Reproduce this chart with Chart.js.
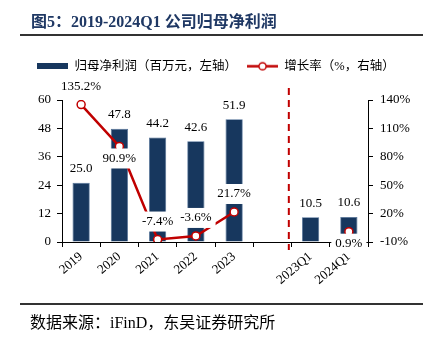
<!DOCTYPE html>
<html>
<head>
<meta charset="utf-8">
<script src="https://cdn.jsdelivr.net/npm/chart.js@4.4.1/dist/chart.umd.min.js"></script>
<style>
body { margin: 0; background: #fff; }
#wrap { position: relative; width: 432px; height: 337px; overflow: hidden; }
#c { position: absolute; left: 0; top: 0; }
.title { position: absolute; left: 31px; top: 8px; font: bold 16px "Liberation Serif", "Noto Sans CJK SC"; color: #1f3864; white-space: nowrap; }
.rule { position: absolute; left: 20px; width: 403px; height: 2px; background: #333; }
.src { position: absolute; left: 30px; top: 309px; font: 16px "Liberation Serif", "Noto Sans CJK SC"; color: #000; white-space: nowrap; }
</style>
</head>
<body>
<div id="wrap">
  <canvas id="c" width="432" height="337"></canvas>
  <div class="title">图5：2019-2024Q1 公司归母净利润</div>
  <div class="rule" style="top:34px"></div>
  <div class="rule" style="top:303px"></div>
  <div class="src">数据来源：iFinD，东吴证券研究所</div>
</div>
<script>
// categories (blank slot separates the yearly and quarterly figures)
var categories = ['2019', '2020', '2021', '2022', '2023', '', '2023Q1', '2024Q1'];
// 归母净利润, 百万元
var profit = [25.0, 47.8, 44.2, 42.6, 51.9, null, 10.5, 10.6];
// 增长率, %
var growth = [135.2, 90.9, -7.4, -3.6, 21.7, null, null, 0.9];

var NAVY = '#17375e';
var RED = '#c00000';
var FONT = '"Liberation Serif", "Noto Sans CJK SC"';

Chart.defaults.font.family = FONT;
Chart.defaults.color = '#000';

// legend swatches
var barSwatch = document.createElement('canvas');
barSwatch.width = 31; barSwatch.height = 6;
(function () {
    var g = barSwatch.getContext('2d');
    g.fillStyle = NAVY;
    g.fillRect(0, 0, 31, 6);
})();
var lineSwatch = document.createElement('canvas');
lineSwatch.width = 31; lineSwatch.height = 11;
(function () {
    var g = lineSwatch.getContext('2d');
    g.strokeStyle = RED; g.lineWidth = 2.5;
    g.beginPath(); g.moveTo(0, 5.5); g.lineTo(31, 5.5); g.stroke();
    g.fillStyle = '#fff'; g.lineWidth = 1.5;
    g.beginPath(); g.arc(15.5, 5.5, 3.6, 0, Math.PI * 2); g.fill(); g.stroke();
})();

// fixed legend height so the plot sits where the reference has it
var legendHeight = {
    id: 'legendHeight',
    beforeInit: function (chart) {
        var fit = chart.legend.fit;
        chart.legend.fit = function () {
            fit.call(this);
            this.height = 50;
        };
    }
};

// red dashed separator between yearly and quarterly data
var divider = {
    id: 'divider',
    afterDatasetsDraw: function (chart) {
        var x = chart.scales.x;
        var px = x.getPixelForValue(5) + 0.43 * (x.getPixelForValue(6) - x.getPixelForValue(5));
        var ctx = chart.ctx;
        ctx.save();
        ctx.strokeStyle = RED;
        ctx.lineWidth = 2;
        ctx.setLineDash([7, 5]);
        ctx.beginPath();
        ctx.moveTo(px, chart.chartArea.top - 12);
        ctx.lineTo(px, chart.chartArea.bottom + 8);
        ctx.stroke();
        ctx.restore();
    }
};

// value labels; growth labels sit on white boxes
var valueLabels = {
    id: 'valueLabels',
    afterDraw: function (chart) {
        var ctx = chart.ctx;
        ctx.save();
        ctx.font = '13px ' + FONT;
        ctx.textAlign = 'center';
        ctx.textBaseline = 'middle';
        chart.getDatasetMeta(0).data.forEach(function (el, i) {
            if (profit[i] == null) return;
            ctx.fillStyle = '#000';
            ctx.fillText(profit[i].toFixed(1), el.x, el.y - 14);
        });
        var below = [false, true, false, false, false, false, false, true];
        chart.getDatasetMeta(1).data.forEach(function (el, i) {
            if (growth[i] == null) return;
            var t = growth[i].toFixed(1) + '%';
            var y = el.y + (below[i] ? 12 : -18);
            var w = ctx.measureText(t).width + 8;
            ctx.fillStyle = '#fff';
            ctx.fillRect(el.x - w / 2, y - 10, w, 20);
            ctx.fillStyle = '#000';
            ctx.fillText(t, el.x, y);
        });
        ctx.restore();
    }
};

new Chart(document.getElementById('c'), {
    type: 'bar',
    data: {
        labels: categories,
        datasets: [{
            type: 'bar',
            label: '归母净利润（百万元，左轴）',
            data: profit,
            yAxisID: 'y',
            backgroundColor: NAVY,
            borderColor: '#4f6f96',
            borderWidth: 0.8,
            barPercentage: 0.45,
            categoryPercentage: 1,
            order: 1
        }, {
            type: 'line',
            label: '增长率（%，右轴）',
            data: growth,
            yAxisID: 'y1',
            borderColor: RED,
            borderWidth: 2.5,
            pointRadius: 4,
            pointBorderWidth: 1.5,
            pointBackgroundColor: '#fff',
            pointBorderColor: RED,
            spanGaps: false,
            order: 0
        }]
    },
    options: {
        responsive: false,
        animation: false,
        layout: { padding: { top: 50, left: 0, right: 0, bottom: 0 } },
        plugins: {
            title: { display: false },
            tooltip: { enabled: false },
            legend: {
                position: 'top',
                labels: {
                    usePointStyle: true,
                    pointStyleWidth: 31,
                    padding: 10,
                    color: '#000',
                    font: { family: FONT, size: 12.5 },
                    sort: function (a, b) { return a.datasetIndex - b.datasetIndex; },
                    generateLabels: function (chart) {
                        var items = Chart.defaults.plugins.legend.labels.generateLabels(chart);
                        items.forEach(function (it) {
                            it.pointStyle = it.datasetIndex === 0 ? barSwatch : lineSwatch;
                        });
                        return items;
                    }
                }
            }
        },
        scales: {
            x: {
                offset: true,
                grid: { display: true, drawOnChartArea: false, offset: true, color: '#000', tickLength: 5 },
                border: { color: '#000', width: 1 },
                ticks: { minRotation: 40, maxRotation: 40, padding: 2, font: { size: 13 }, color: '#000' },
                afterFit: function (s) { s.height = 95; }
            },
            y: {
                position: 'left',
                min: 0, max: 60,
                grid: { drawOnChartArea: false, color: '#000', tickLength: 5 },
                border: { color: '#000', width: 1 },
                ticks: { stepSize: 12, padding: 6, font: { size: 13 }, color: '#000' },
                afterFit: function (s) { s.width = 62; }
            },
            y1: {
                position: 'right',
                min: -10, max: 140,
                grid: { drawOnChartArea: false, color: '#000', tickLength: 5 },
                border: { color: '#000', width: 1 },
                ticks: {
                    stepSize: 30, padding: 7, font: { size: 13 }, color: '#000',
                    callback: function (v) { return v + '%'; }
                },
                afterFit: function (s) { s.width = 64; }
            }
        }
    },
    plugins: [legendHeight, divider, valueLabels]
});
</script>
</body>
</html>
